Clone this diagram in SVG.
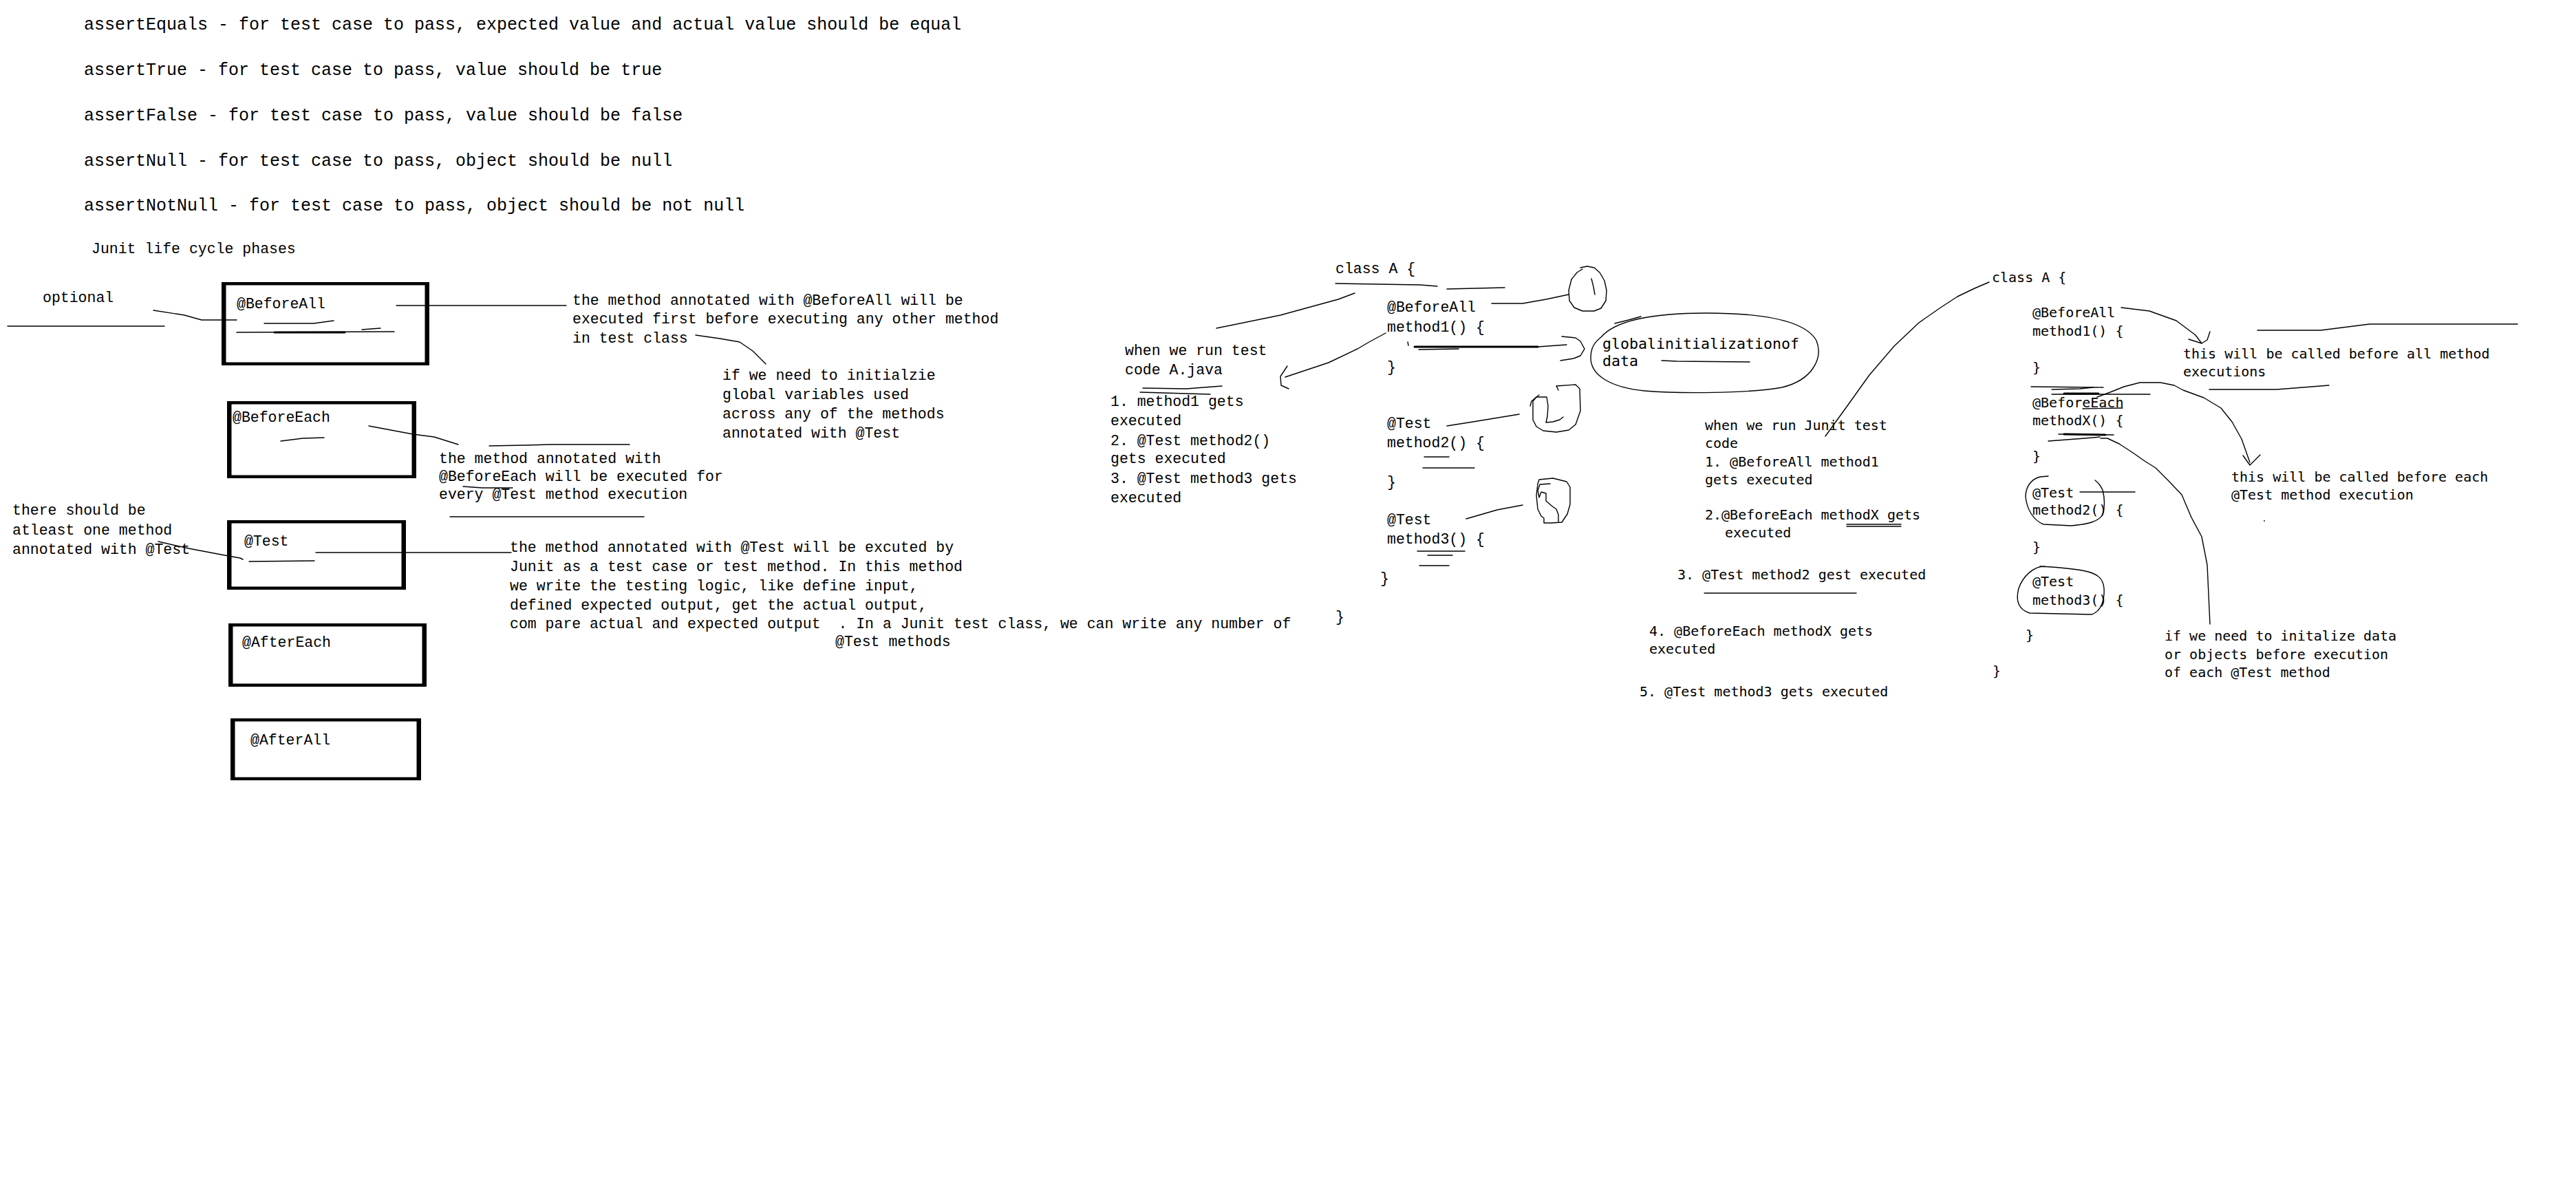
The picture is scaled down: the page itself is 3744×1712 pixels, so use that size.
<svg xmlns="http://www.w3.org/2000/svg" width="3744" height="1712" viewBox="0 0 3744 1712">
  <style>
    .bg { fill: #ffffff; }
    .lm { font-family: "Liberation Mono", "DejaVu Sans Mono", monospace; fill: #000; }
    .dm { font-family: "DejaVu Sans Mono", "Liberation Mono", monospace; fill: #000; }
    .big { font-size: 25px; }
    .mid { font-size: 21.5px; }
    .glob { font-size: 21.6px; }
    .sm { font-size: 20px; }
    .frame { fill: #000; }
    .inner { fill: #fff; }
    .ln { fill: none; stroke: #000; stroke-width: 1.4; stroke-linejoin: round; stroke-linecap: round; }
    .thk { fill: none; stroke: #000; stroke-width: 3; stroke-linecap: round; }
  </style>
  <rect class="bg" x="0" y="0" width="3744" height="1712"/>

  <!-- assertion summary -->
  <g id="assertions" class="lm big">
    <text x="122" y="43">assertEquals - for test case to pass, expected value and actual value should be equal</text>
    <text x="122" y="109">assertTrue - for test case to pass, value should be true</text>
    <text x="122" y="175">assertFalse - for test case to pass, value should be false</text>
    <text x="122" y="241">assertNull - for test case to pass, object should be null</text>
    <text x="122" y="306">assertNotNull - for test case to pass, object should be not null</text>
  </g>

  <g id="lifecycle-title" class="lm mid">
    <text x="133" y="368">Junit life cycle phases</text>
  </g>

  <!-- lifecycle phase boxes -->
  <g id="box-beforeall">
    <rect class="frame" x="322" y="410" width="302" height="121"/>
    <rect class="inner" x="328.5" y="414.5" width="289" height="112"/>
    <text class="lm mid" x="344" y="448">@BeforeAll</text>
  </g>
  <g id="box-beforeeach">
    <rect class="frame" x="330" y="583" width="275" height="112"/>
    <rect class="inner" x="336.5" y="587.5" width="262" height="103"/>
    <text class="lm mid" x="338" y="613">@BeforeEach</text>
  </g>
  <g id="box-test">
    <rect class="frame" x="330" y="756" width="260" height="101"/>
    <rect class="inner" x="336.5" y="760.5" width="247" height="92"/>
    <text class="lm mid" x="355" y="793">@Test</text>
  </g>
  <g id="box-aftereach">
    <rect class="frame" x="332" y="906" width="288" height="92"/>
    <rect class="inner" x="338.5" y="910.5" width="275" height="83"/>
    <text class="lm mid" x="352" y="940">@AfterEach</text>
  </g>
  <g id="box-afterall">
    <rect class="frame" x="335" y="1044" width="277" height="90"/>
    <rect class="inner" x="341.5" y="1048.5" width="264" height="81"/>
    <text class="lm mid" x="364" y="1082">@AfterAll</text>
  </g>

  <!-- notes around the boxes -->
  <g id="note-optional" class="lm mid">
    <text x="62" y="439">optional</text>
  </g>
  <g id="note-beforeall" class="lm mid">
    <text x="832" y="443">the method annotated with @BeforeAll will be</text>
    <text x="832" y="470">executed first before executing any other method</text>
    <text x="832" y="498">in test class</text>
  </g>
  <g id="note-global-vars" class="lm mid">
    <text x="1050" y="552">if we need to initialzie</text>
    <text x="1050" y="580">global variables used</text>
    <text x="1050" y="608">across any of the methods</text>
    <text x="1050" y="636">annotated with @Test</text>
  </g>
  <g id="note-beforeeach" class="lm mid">
    <text x="638" y="673">the method annotated with</text>
    <text x="638" y="699">@BeforeEach will be executed for</text>
    <text x="638" y="725">every @Test method execution</text>
  </g>
  <g id="note-atleast" class="lm mid">
    <text x="18" y="748">there should be</text>
    <text x="18" y="777">atleast one method</text>
    <text x="18" y="805">annotated with @Test</text>
  </g>
  <g id="note-test" class="lm mid">
    <text x="741" y="802">the method annotated with @Test will be excuted by</text>
    <text x="741" y="830">Junit as a test case or test method. In this method</text>
    <text x="741" y="858">we write the testing logic, like define input,</text>
    <text x="741" y="886">defined expected output, get the actual output,</text>
    <text x="741" y="913" xml:space="preserve">com pare actual and expected output  . In a Junit test class, we can write any number of</text>
    <text x="1214" y="939">@Test methods</text>
  </g>

  <!-- first class sketch -->
  <g id="class-a-first" class="lm mid">
    <text x="1941" y="397">class A {</text>
    <text x="2016" y="453">@BeforeAll</text>
    <text x="2016" y="482">method1() {</text>
    <text x="2016" y="540">}</text>
    <text x="2016" y="622">@Test</text>
    <text x="2016" y="650">method2() {</text>
    <text x="2016" y="707">}</text>
    <text x="2016" y="762">@Test</text>
    <text x="2016" y="790">method3() {</text>
    <text x="2006" y="847">}</text>
    <text x="1941" y="903">}</text>
  </g>
  <g id="note-run-a-java" class="lm mid">
    <text x="1635" y="516">when we run test</text>
    <text x="1635" y="544">code A.java</text>
    <text x="1614" y="590">1. method1 gets</text>
    <text x="1614" y="618">executed</text>
    <text x="1614" y="647">2. @Test method2()</text>
    <text x="1614" y="673">gets executed</text>
    <text x="1614" y="702">3. @Test method3 gets</text>
    <text x="1614" y="730">executed</text>
  </g>
  <g id="bubble-global-init">
    <path class="ln" d="M2327,490 C2350,463 2410,455 2480,455 C2570,455 2625,468 2640,495 C2650,520 2635,552 2590,563 C2540,572 2440,572 2390,568 C2340,563 2312,545 2312,520 C2312,505 2318,497 2327,490 Z"/>
    <text class="dm glob" x="2329" y="507">globalinitializationof</text>
    <text class="dm glob" x="2329" y="532">data</text>
  </g>

  <!-- execution order notes -->
  <g id="note-run-junit" class="dm sm">
    <text x="2478" y="625">when we run Junit test</text>
    <text x="2478" y="651">code</text>
    <text x="2478" y="678">1. @BeforeAll method1</text>
    <text x="2478" y="704">gets executed</text>
    <text x="2478" y="755">2.@BeforeEach methodX gets</text>
    <text x="2507" y="781">executed</text>
    <text x="2438" y="842">3. @Test method2 gest executed</text>
    <text x="2397" y="924">4. @BeforeEach methodX gets</text>
    <text x="2397" y="950">executed</text>
    <text x="2383" y="1012">5. @Test method3 gets executed</text>
  </g>

  <!-- second class sketch -->
  <g id="class-a-second" class="dm sm">
    <text x="2895" y="410">class A {</text>
    <text x="2954" y="461">@BeforeAll</text>
    <text x="2954" y="488">method1() {</text>
    <text x="2954" y="541">}</text>
    <text x="2954" y="592">@BeforeEach</text>
    <text x="2954" y="618">methodX() {</text>
    <text x="2954" y="670">}</text>
    <text x="2954" y="723">@Test</text>
    <text x="2954" y="748">method2() {</text>
    <text x="2954" y="802">}</text>
    <text x="2954" y="852">@Test</text>
    <text x="2954" y="879">method3() {</text>
    <text x="2944" y="930">}</text>
    <text x="2896" y="982">}</text>
  </g>
  <g id="note-before-all-calls" class="dm sm">
    <text x="3173" y="521">this will be called before all method</text>
    <text x="3173" y="547">executions</text>
  </g>
  <g id="note-before-each-calls" class="dm sm">
    <text x="3243" y="700">this will be called before each</text>
    <text x="3243" y="726">@Test method execution</text>
  </g>
  <g id="note-init-data" class="dm sm">
    <text x="3146" y="931">if we need to initalize data</text>
    <text x="3146" y="958">or objects before execution</text>
    <text x="3146" y="984">of each @Test method</text>
  </g>

  <!-- hand-drawn strokes: pointers, underlines and loops -->
  <g id="connectors">
    <!-- left column -->
    <polyline class="ln" points="11,474 239,474"/>
    <polyline class="ln" points="223,451 268,458 293,465 344,465"/>
    <polyline class="ln" points="384,470 456,470 485,466"/>
    <polyline class="ln" points="344,483 573,482"/>
    <polyline class="thk" points="399,483 501,483"/>
    <polyline class="ln" points="526,479 553,477"/>
    <polyline class="ln" points="576,444 823,444"/>
    <polyline class="ln" points="1011,487 1046,492 1075,497 1094,510 1113,529"/>
    <polyline class="ln" points="408,641 440,637 471,636"/>
    <polyline class="ln" points="536,619 600,631 631,635 666,646"/>
    <polyline class="ln" points="711,648 765,647 800,646 915,646"/>
    <polyline class="ln" points="673,707 701,709 745,709"/>
    <polyline class="ln" points="654,751 936,751"/>
    <polyline class="ln" points="230,787 274,797 332,808 349,811 353,813"/>
    <polyline class="ln" points="362,816 457,815"/>
    <polyline class="ln" points="459,803 743,803"/>

    <!-- first class sketch -->
    <polyline class="ln" points="1941,412 2064,414 2089,416"/>
    <polyline class="ln" points="2103,420 2187,418"/>
    <polyline class="ln" points="1768,477 1861,458 1945,435 1969,426"/>
    <polyline class="ln" points="2014,484 1990,497 1973,507 1931,527 1868,548"/>
    <polyline class="ln" points="1871,532 1861,547 1862,560 1873,565"/>
    <polyline class="ln" points="1661,564 1724,565 1776,561"/>
    <polyline class="ln" points="1657,570 1759,573"/>
    <polyline class="ln" points="2046,497 2047,502"/>
    <polyline class="thk" points="2056,504 2235,504"/>
    <polyline class="ln" points="2062,508 2120,507"/>
    <polyline class="ln" points="2235,504 2277,501"/>
    <polyline class="ln" points="2270,489 2290,491 2297,496 2303,507 2297,517 2287,521 2268,524"/>
    <polyline class="ln" points="2168,441 2213,441 2247,435 2280,428"/>
    <path class="ln" d="M2297,389 L2307,387 L2317,389 L2325,396 L2332,408 L2335,422 L2334,437 L2327,448 L2317,452 L2300,452 L2288,447 L2281,437 L2280,422 L2284,406 L2292,396 L2300,391"/>
    <polyline class="ln" points="2313,405 2316,417 2318,428"/>
    <polyline class="ln" points="2347,470 2367,465 2385,460"/>
    <polyline class="ln" points="2415,524 2437,525 2543,526"/>
    <polyline class="ln" points="2103,619 2141,613 2208,602"/>
    <polyline class="ln" points="2265,567 2262,561 2290,559 2296,565 2297,597 2290,617 2280,625 2262,628 2243,626 2233,620 2228,610 2228,583 2233,577 2248,577 2250,590 2249,605 2247,614 2257,613 2267,610 2272,606"/>
    <polyline class="ln" points="2224,590 2226,583 2232,578 2237,574"/>
    <polyline class="ln" points="2070,664 2106,664"/>
    <polyline class="ln" points="2068,680 2143,680"/>
    <polyline class="ln" points="2131,754 2176,741 2213,734"/>
    <polyline class="ln" points="2235,703 2237,697 2257,695 2277,700 2282,708 2282,733 2278,747 2270,759 2255,760 2244,760 2244,753 2240,750 2235,740 2233,720 2235,703"/>
    <polyline class="ln" points="2253,703 2238,704 2235,713 2237,723 2240,715 2247,717 2247,728 2255,735 2262,740 2265,748 2265,758"/>
    <polyline class="ln" points="2060,801 2129,801"/>
    <polyline class="ln" points="2075,807 2111,807"/>
    <polyline class="ln" points="2063,822 2106,822"/>

    <!-- execution order notes -->
    <polyline class="ln" points="2684,762 2763,762"/>
    <polyline class="ln" points="2684,765 2763,765"/>
    <polyline class="ln" points="2477,862 2698,862"/>
    <polyline class="ln" points="2891,410 2870,419 2845,431 2819,448 2789,469 2753,503 2717,545 2687,587 2653,634"/>

    <!-- second class sketch -->
    <polyline class="ln" points="3083,447 3124,452 3163,466 3191,487 3200,499"/>
    <polyline class="ln" points="3181,493 3200,499 3208,494 3212,482"/>
    <polyline class="ln" points="3281,480 3373,480 3444,471 3659,471"/>
    <polyline class="ln" points="3211,566 3309,566 3385,560"/>
    <polyline class="ln" points="2952,562 3057,563"/>
    <polyline class="ln" points="2982,566 3023,565 3042,563"/>
    <polyline class="ln" points="2982,573 3125,573"/>
    <polyline class="thk" points="3000,572 3050,572"/>
    <polyline class="ln" points="3027,594 3085,593"/>
    <polyline class="ln" points="3048,577 3067,570 3087,562 3110,556 3140,556 3160,560 3173,567 3203,578 3228,593 3244,613 3258,638 3270,672"/>
    <polyline class="ln" points="3260,662 3270,676 3285,661"/>
    <polyline class="thk" points="3000,631 3060,632"/>
    <polyline class="ln" points="2992,631 3072,632"/>
    <polyline class="ln" points="2977,641 3030,637 3052,635"/>
    <polyline class="ln" points="3053,637 3063,637 3080,645 3100,658 3117,670 3133,680 3152,699 3171,719 3185,752 3200,780 3208,821 3212,907"/>
    <polyline class="ln" points="3023,715 3103,715"/>
    <path class="ln" d="M2977,692 L2965,693 C2950,697 2944,710 2944,722 C2946,740 2955,756 2970,762 L3010,764 C3035,762 3050,758 3056,748 C3060,735 3058,720 3056,712 C3053,705 3049,701 3045,698"/>
    <path class="ln" d="M2972,823 C2955,823 2940,838 2934,855 C2930,870 2932,885 2950,891 L3040,893 C3055,888 3059,870 3058,855 C3057,842 3050,835 3035,831 C3020,827 3000,825 2965,823"/>
    <circle cx="3291" cy="757" r="0.9" fill="#000"/>
  </g>
</svg>
